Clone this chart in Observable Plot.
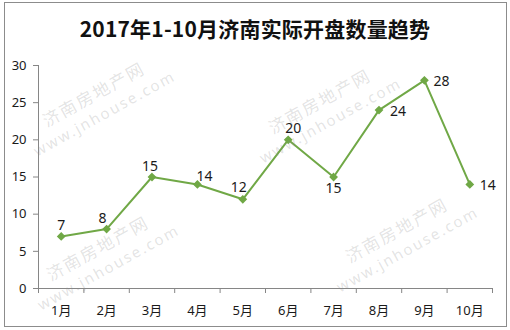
<!DOCTYPE html>
<html>
<head>
<meta charset="utf-8">
<script src="https://cdn.jsdelivr.net/npm/d3@7"></script>
<script src="https://cdn.jsdelivr.net/npm/@observablehq/plot@0.6"></script>
<style>
  body { margin: 0; background: #fff; }
  #chart { position: relative; width: 510px; height: 330px; overflow: hidden; background: #fff;
           font-family: "Noto Sans", "Noto Sans CJK SC", sans-serif; }
  #title { position: absolute; left: 0; top: 13px; width: 510px; text-align: center;
           font: bold 21px "Noto Sans CJK SC", sans-serif; color: #111; letter-spacing: 0.2px; }
  #plot { position: absolute; left: 0; top: 50px; }
  #frame { position: absolute; left: 4px; top: 2px; width: 503px; height: 325px;
           border: 1px solid #8c8c8c; box-sizing: border-box; pointer-events: none; }
  .wm { position: absolute; transform: translate(-50%, -50%) rotate(-29deg); text-align: center;
        white-space: nowrap; color: rgba(140, 140, 140, 0.24); pointer-events: none; line-height: 20px; }
  .wm .cn { font: 17px "Noto Sans CJK SC", sans-serif; letter-spacing: 2px; }
  .wm .en { font: 15px "Noto Sans", sans-serif; letter-spacing: 2px; }
</style>
</head>
<body>
<div id="chart">
  <div id="plot"></div>
  <div id="title"></div>
  <div id="frame"></div>
</div>
<script>
// Monthly count of projects opened for sale in Jinan, Jan–Oct 2017
const title = "2017年1-10月济南实际开盘数量趋势";
const months = ["1月", "2月", "3月", "4月", "5月", "6月", "7月", "8月", "9月", "10月"];
const openings = [7, 8, 15, 14, 12, 20, 15, 24, 28, 14];
const yTicks = [0, 5, 10, 15, 20, 25, 30];
const watermarkCn = "济南房地产网";
const watermarkEn = "www.jnhouse.com";

// label offsets (dx, dy) so value labels sit clear of the line
const labelOffset = {
  "1月": [0, -11], "2月": [-4, -11], "3月": [-2, -10], "4月": [7, -8], "5月": [-4, -12],
  "6月": [5, -11], "7月": [0, 12], "8月": [19, 1], "9月": [17, 1], "10月": [18, 1]
};

const rows = months.map((m, i) => ({month: m, pos: i + 1, value: openings[i]}));
const green = "#70a846";
const axisGray = "#868686";

document.getElementById("title").textContent = title;

const chart = Plot.plot({
  width: 510,
  height: 280,
  marginTop: 15,
  marginBottom: 42,
  marginLeft: 38,
  marginRight: 18,
  style: {background: "transparent", color: "#1a1a1a", fontFamily: "'Noto Sans', 'Noto Sans CJK SC', sans-serif"},
  x: {type: "linear", domain: [0.5, months.length + 0.5]},
  y: {domain: [0, 30]},
  marks: [
    // category boundary ticks along the x axis
    Plot.axisX({ticks: d3.range(0.5, months.length + 1, 1), tickSize: 5, tickFormat: () => "",
                stroke: axisGray, label: null}),
    // month names centred in each category
    Plot.axisX({ticks: d3.range(1, months.length + 1), tickSize: 0, tickPadding: 17, fontSize: 13,
                tickFormat: i => months[i - 1], label: null}),
    Plot.axisY({ticks: yTicks, tickSize: 5, tickPadding: 7, fontSize: 13, stroke: axisGray, label: null}),
    Plot.ruleX([0.5], {stroke: axisGray}),
    Plot.ruleY([0], {stroke: axisGray}),
    Plot.line(rows, {x: "pos", y: "value", stroke: green, strokeWidth: 2}),
    Plot.dot(rows, {x: "pos", y: "value", symbol: "diamond2", r: 3, fill: green, stroke: green}),
    ...rows.map(d => Plot.text([d], {
      x: "pos", y: "value", text: "value", fontSize: 14, fill: "#1a1a1a",
      dx: labelOffset[d.month][0], dy: labelOffset[d.month][1]
    }))
  ]
});
document.getElementById("plot").appendChild(chart);

// faint site watermarks scattered across the chart
const wmCentres = [[98, 102], [324, 109], [401, 238], [102, 256]];
const host = document.getElementById("chart");
for (const [cx, cy] of wmCentres) {
  const el = document.createElement("div");
  el.className = "wm";
  el.style.left = cx + "px";
  el.style.top = cy + "px";
  el.innerHTML = `<div class="cn">${watermarkCn}</div><div class="en">${watermarkEn}</div>`;
  host.insertBefore(el, document.getElementById("frame"));
}
</script>
</body>
</html>
